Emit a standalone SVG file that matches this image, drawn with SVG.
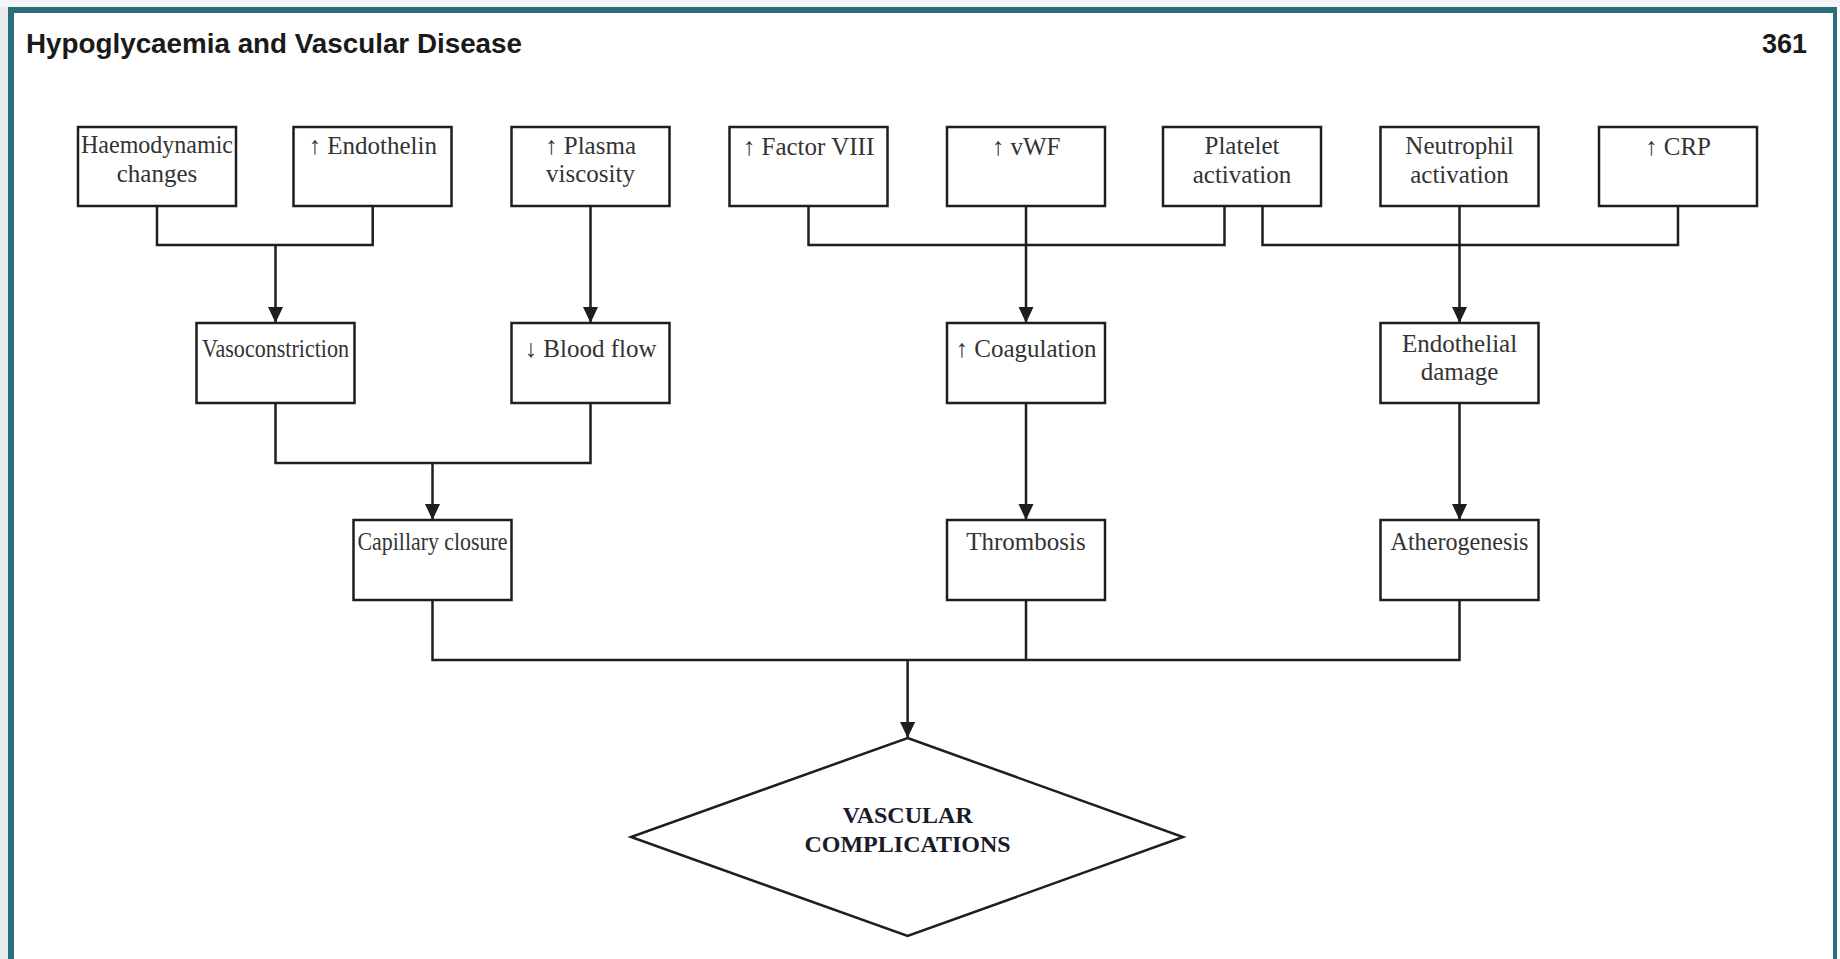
<svg xmlns="http://www.w3.org/2000/svg" width="1840" height="959" viewBox="0 0 1840 959">
<style>
.frame{fill:#2a6d7b}
.box{fill:#fff;stroke:#1e1e1e;stroke-width:2.5}
.lbl{font-family:"Liberation Serif","Times New Roman",serif;font-size:25px;fill:#333;text-anchor:middle}
.big{font-family:"Liberation Serif","Times New Roman",serif;font-size:24px;font-weight:bold;fill:#1a1a2a;text-anchor:middle}
.hdr{font-family:"Liberation Sans",Arial,sans-serif;font-weight:bold;font-size:27px;fill:#1a1a1a}
.con{fill:none;stroke:#1e1e1e;stroke-width:2.5}
</style>
<defs>
<marker id="arr" markerUnits="userSpaceOnUse" markerWidth="18" markerHeight="18" refX="16" refY="7.5" orient="auto">
<path d="M0,0 L16,7.5 L0,15 Z" fill="#1e1e1e"/>
</marker>
</defs>
<rect x="0" y="0" width="1840" height="959" fill="#fff"/>
<rect x="0" y="0" width="8" height="959" fill="#e8eced"/>
<rect x="0" y="0" width="1840" height="7" fill="#f4f6f6"/>
<rect class="frame" x="8" y="7" width="1829" height="6"/>
<rect class="frame" x="8" y="7" width="6" height="952"/>
<rect class="frame" x="1833" y="7" width="4" height="952"/>
<text class="hdr" x="26" y="53" textLength="496" lengthAdjust="spacingAndGlyphs">Hypoglycaemia and Vascular Disease</text>
<text class="hdr" x="1807" y="53" text-anchor="end">361</text>

<g id="connectors">
<path class="con" d="M157,206 V245 H372.7 V206"/>
<path class="con" d="M275.5,245 V323" marker-end="url(#arr)"/>
<path class="con" d="M590.5,206 V323" marker-end="url(#arr)"/>
<path class="con" d="M808.5,206 V245 H1224.5 V206"/>
<path class="con" d="M1026,206 V323" marker-end="url(#arr)"/>
<path class="con" d="M1262.5,206 V245 H1678 V206"/>
<path class="con" d="M1459.5,206 V323" marker-end="url(#arr)"/>
<path class="con" d="M275.5,403 V463 H590.5 V403"/>
<path class="con" d="M432.5,463 V520" marker-end="url(#arr)"/>
<path class="con" d="M1026,403 V520" marker-end="url(#arr)"/>
<path class="con" d="M1459.5,403 V520" marker-end="url(#arr)"/>
<path class="con" d="M432.5,600 V660 H1459.5 V600"/>
<path class="con" d="M1026,600 V660"/>
<path class="con" d="M907.6,660 V738" marker-end="url(#arr)"/>
</g>

<g id="n-haemodynamic"><rect class="box" x="78" y="127" width="158" height="79"/><text class="lbl" x="157" y="153" textLength="152" lengthAdjust="spacingAndGlyphs">Haemodynamic</text><text class="lbl" x="157" y="182">changes</text></g>
<g id="n-endothelin"><rect class="box" x="293.5" y="127" width="158" height="79"/><text class="lbl" x="372.7" y="154">↑ Endothelin</text></g>
<g id="n-plasma"><rect class="box" x="511.5" y="127" width="158" height="79"/><text class="lbl" x="590.5" y="154">↑ Plasma</text><text class="lbl" x="590.5" y="182">viscosity</text></g>
<g id="n-factor8"><rect class="box" x="729.5" y="127" width="158" height="79"/><text class="lbl" x="808.5" y="155">↑ Factor VIII</text></g>
<g id="n-vwf"><rect class="box" x="947" y="127" width="158" height="79"/><text class="lbl" x="1026" y="155">↑ vWF</text></g>
<g id="n-platelet"><rect class="box" x="1163" y="127" width="158" height="79"/><text class="lbl" x="1242" y="154">Platelet</text><text class="lbl" x="1242" y="183">activation</text></g>
<g id="n-neutrophil"><rect class="box" x="1380.5" y="127" width="158" height="79"/><text class="lbl" x="1459.5" y="154">Neutrophil</text><text class="lbl" x="1459.5" y="183">activation</text></g>
<g id="n-crp"><rect class="box" x="1599" y="127" width="158" height="79"/><text class="lbl" x="1678" y="155">↑ CRP</text></g>

<g id="n-vasoconstriction"><rect class="box" x="196.5" y="323" width="158" height="80"/><text class="lbl" x="275.5" y="357" textLength="147" lengthAdjust="spacingAndGlyphs">Vasoconstriction</text></g>
<g id="n-bloodflow"><rect class="box" x="511.5" y="323" width="158" height="80"/><text class="lbl" x="590.5" y="357">↓ Blood flow</text></g>
<g id="n-coagulation"><rect class="box" x="947" y="323" width="158" height="80"/><text class="lbl" x="1026" y="357">↑ Coagulation</text></g>
<g id="n-endodamage"><rect class="box" x="1380.5" y="323" width="158" height="80"/><text class="lbl" x="1459.5" y="352">Endothelial</text><text class="lbl" x="1459.5" y="380">damage</text></g>

<g id="n-capillary"><rect class="box" x="353.5" y="520" width="158" height="80"/><text class="lbl" x="432.5" y="550" textLength="150" lengthAdjust="spacingAndGlyphs">Capillary closure</text></g>
<g id="n-thrombosis"><rect class="box" x="947" y="520" width="158" height="80"/><text class="lbl" x="1026" y="550">Thrombosis</text></g>
<g id="n-atherogenesis"><rect class="box" x="1380.5" y="520" width="158" height="80"/><text class="lbl" x="1459.5" y="550" textLength="138" lengthAdjust="spacingAndGlyphs">Atherogenesis</text></g>

<g id="n-vascular"><polygon class="box" points="907.6,738 1183,837 907.6,936 631,837"/><text class="big" x="907.6" y="823">VASCULAR</text><text class="big" x="907.6" y="852">COMPLICATIONS</text></g>
</svg>
